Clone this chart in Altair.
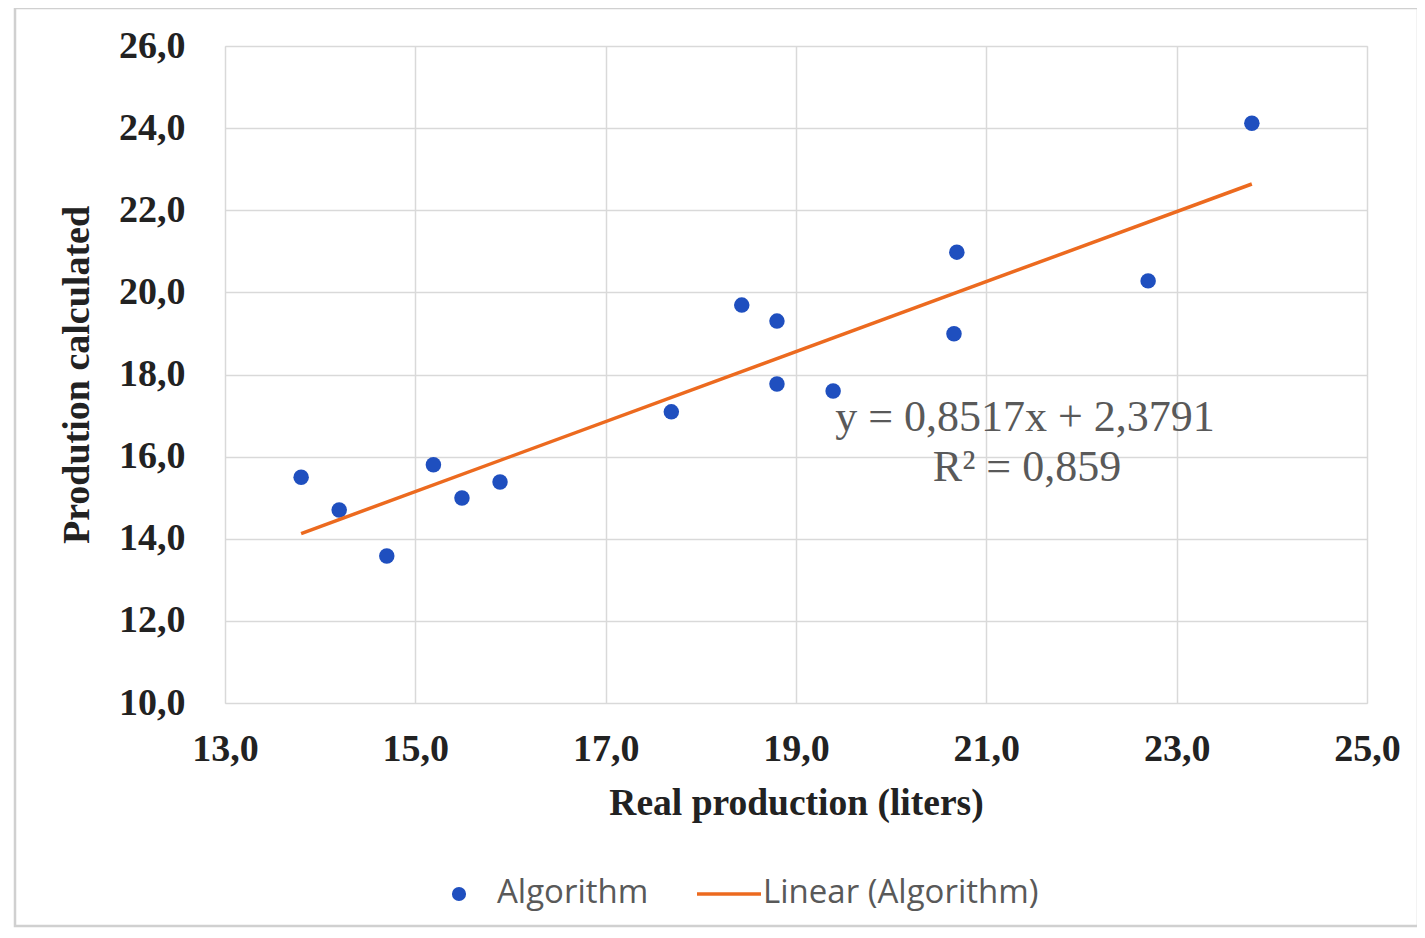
import altair as alt
import pandas as pd

real_x = [13.80, 14.20, 14.70, 15.19, 15.49, 15.89, 17.69, 18.43, 18.80, 18.80, 19.39, 20.69, 20.66, 22.70, 23.79]
calc_y = [15.50, 14.70, 13.58, 15.80, 14.99, 15.38, 17.09, 19.69, 19.30, 17.77, 17.60, 20.98, 18.99, 20.28, 24.12]

eq_lines = ["y = 0,8517x + 2,3791", "R² = 0,859"]
legend_labels = ["Algorithm", "Linear (Algorithm)"]

df = pd.DataFrame({"x": real_x, "y": calc_y})

BLUE = "#1F4FBF"
ORANGE = "#EC6A1F"
GRID = "#d9d9d9"
W, H = 1142, 657

lab = "replace(format(datum.value, '.1f'), '.', ',')"

xenc = alt.X("x:Q", scale=alt.Scale(domain=[13, 25], nice=False, zero=False),
             axis=alt.Axis(values=[13, 15, 17, 19, 21, 23, 25], labelExpr=lab,
                           title="Real production (liters)", titleY=100, titleBaseline="middle",
                           labelPadding=27, labelFontSize=38, labelFont="Liberation Serif",
                           labelFontWeight="bold", labelColor="#222222",
                           titleFont="Liberation Serif", titleFontSize=37.5, titleFontWeight="bold",
                           titleColor="#222222", grid=True, gridColor=GRID, gridWidth=1.5,
                           ticks=False, domain=False, labelFlush=False))
yenc = alt.Y("y:Q", scale=alt.Scale(domain=[10, 26], nice=False, zero=False),
             axis=alt.Axis(values=[10, 12, 14, 16, 18, 20, 22, 24, 26], labelExpr=lab,
                           title="Prodution calculated", titleX=-148, titleY=H / 2,
                           titleAngle=-90, titleBaseline="middle", titleAlign="center",
                           labelPadding=40, labelFontSize=38, labelFont="Liberation Serif",
                           labelFontWeight="bold", labelColor="#222222",
                           titleFont="Liberation Serif", titleFontSize=38, titleFontWeight="bold",
                           titleColor="#222222", grid=True, gridColor=GRID, gridWidth=1.5,
                           ticks=False, domain=False, labelFlush=False))

base = alt.Chart(df)

points = base.mark_circle(size=240, color=BLUE, opacity=1).encode(x=xenc, y=yenc)

trend = base.transform_regression("x", "y", method="linear").mark_line(
    color=ORANGE, strokeWidth=3.5).encode(x="x:Q", y="y:Q")

one = pd.DataFrame({"a": [0]})

eq1 = alt.Chart(one).mark_text(font="Liberation Serif", fontSize=44, color="#595959",
                               align="center", baseline="middle", text=eq_lines[0]).encode(
    x=alt.value(800), y=alt.value(372))
eq2 = alt.Chart(one).mark_text(font="Liberation Serif", fontSize=44, color="#595959",
                               align="center", baseline="middle", text=eq_lines[1]).encode(
    x=alt.value(802), y=alt.value(422))

frame = alt.Chart(one).mark_rect(
    fill=None, stroke="#d0d0d0", strokeWidth=2.5).encode(
    x=alt.value(-210), x2=alt.value(1193), y=alt.value(-38), y2=alt.value(880))

leg_pt = alt.Chart(one).mark_circle(size=200, color=BLUE, opacity=1).encode(
    x=alt.value(234), y=alt.value(848))
leg_ln = alt.Chart(one).mark_rule(color=ORANGE, strokeWidth=3.5).encode(
    x=alt.value(472), x2=alt.value(536), y=alt.value(848))
leg_t1 = alt.Chart(one).mark_text(font="Open Sans", fontSize=33, color="#595959",
                                  align="left", baseline="middle", text=legend_labels[0]).encode(
    x=alt.value(272), y=alt.value(847))
leg_t2 = alt.Chart(one).mark_text(font="Open Sans", fontSize=33, color="#595959",
                                  align="left", baseline="middle", text=legend_labels[1]).encode(
    x=alt.value(538), y=alt.value(847))

chart = alt.layer(frame, points, trend, eq1, eq2, leg_pt, leg_ln, leg_t1, leg_t2).properties(
    width=W, height=H,
    autosize=alt.AutoSizeParams(type="none"),
    padding={"left": 217, "top": 38, "right": 50, "bottom": 230},
).configure_view(stroke=GRID, strokeWidth=1.5).configure(background="white")

chart.save("out.html", embed_options={"renderer": "svg", "actions": False})
